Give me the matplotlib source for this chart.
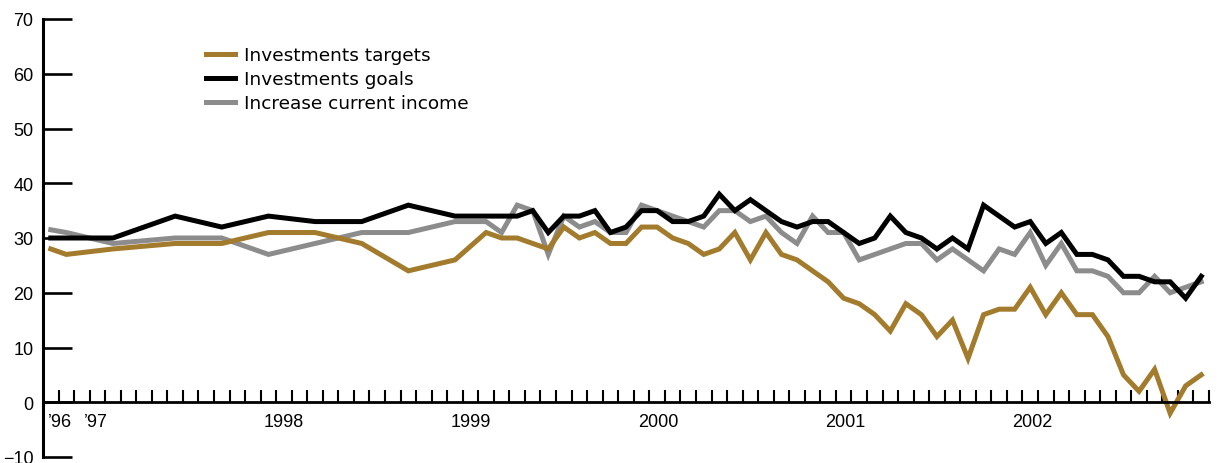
import matplotlib
matplotlib.use('agg')
import matplotlib.pyplot as plt
import numpy as np

# survey dates (year-month); quarterly early on, monthly from spring 1999
dates = ["1996-10", "1996-11", "1997-02", "1997-06", "1997-09", "1997-12",
         "1998-03", "1998-06", "1998-09", "1998-12", "1999-02", "1999-03",
         "1999-04", "1999-05", "1999-06", "1999-07", "1999-08", "1999-09",
         "1999-10", "1999-11", "1999-12", "2000-01", "2000-02", "2000-03",
         "2000-04", "2000-05", "2000-06", "2000-07", "2000-08", "2000-09",
         "2000-10", "2000-11", "2000-12", "2001-01", "2001-02", "2001-03",
         "2001-04", "2001-05", "2001-06", "2001-07", "2001-08", "2001-09",
         "2001-10", "2001-11", "2001-12", "2002-01", "2002-02", "2002-03",
         "2002-04", "2002-05", "2002-06", "2002-07", "2002-08", "2002-09",
         "2002-10", "2002-11", "2002-12"]

investment_targets = [28, 27, 28, 29, 29, 31, 31, 29, 24, 26, 31, 30,
                      30, 29, 28, 32, 30, 31, 29, 29, 32, 32, 30, 29,
                      27, 28, 31, 26, 31, 27, 26, 24, 22, 19, 18, 16,
                      13, 18, 16, 12, 15, 8, 16, 17, 17, 21, 16, 20,
                      16, 16, 12, 5, 2, 6, -2, 3, 5]

investment_goals = [30, 30, 30, 34, 32, 34, 33, 33, 36, 34, 34, 34,
                    34, 35, 31, 34, 34, 35, 31, 32, 35, 35, 33, 33,
                    34, 38, 35, 37, 35, 33, 32, 33, 33, 31, 29, 30,
                    34, 31, 30, 28, 30, 28, 36, 34, 32, 33, 29, 31,
                    27, 27, 26, 23, 23, 22, 22, 19, 23]

current_income = [31.5, 31, 29, 30, 30, 27, 29, 31, 31, 33, 33, 31,
                  36, 35, 27, 34, 32, 33, 31, 31, 36, 35, 34, 33,
                  32, 35, 35, 33, 34, 31, 29, 34, 31, 31, 26, 27,
                  28, 29, 29, 26, 28, 26, 24, 28, 27, 31, 25, 29,
                  24, 24, 23, 20, 20, 23, 20, 21, 22]

year_labels = ["\u201996", "\u201997", "1998", "1999", "2000", "2001", "2002"]
year_label_pos = [10.1, 12.4, 24.5, 36.5, 48.6, 60.6, 72.6]  # months since Jan 1996

# months since Jan 1996, points sit mid-month
x = np.array([(int(d[:4]) - 1996) * 12 + int(d[5:]) - 1 + 0.5 for d in dates])

GOLD = '#a37b2c'
GRAY = '#8c8c8c'
BLACK = '#000000'

fig = plt.figure(figsize=(12.19, 4.64), dpi=100)
ax = fig.add_axes([43 / 1219, 6 / 464, (1209 - 43) / 1219, (458 - 20) / 464])

l_inc, = ax.plot(x, current_income, color=GRAY, lw=3.6, solid_joinstyle='miter',
                 label='Increase current income')
l_tgt, = ax.plot(x, investment_targets, color=GOLD, lw=3.6, solid_joinstyle='miter',
                 label='Investments targets')
l_goal, = ax.plot(x, investment_goals, color=BLACK, lw=3.6, solid_joinstyle='miter',
                  label='Investments goals')

ax.set_xlim(9, 84)
ax.set_ylim(-10, 70)

for s in ['top', 'right']:
    ax.spines[s].set_visible(False)
ax.spines['left'].set_linewidth(2.2)
ax.spines['bottom'].set_position(('data', 0))
ax.spines['bottom'].set_linewidth(2.0)

ax.set_yticks(np.arange(-10, 71, 10))
ax.tick_params(axis='y', direction='in', length=21, width=1.9, pad=7,
               labelsize=13)

ax.set_xticks(np.arange(10, 85), minor=True)
ax.set_xticks(year_label_pos)
ax.set_xticklabels(year_labels)
ax.tick_params(axis='x', which='minor', direction='in', length=8.6, width=1.5)
ax.tick_params(axis='x', which='major', length=0, pad=8, labelsize=13)

for lab in ax.get_xticklabels() + ax.get_yticklabels():
    lab.set_fontfamily('Liberation Sans')

leg = ax.legend(handles=[l_tgt, l_goal, l_inc], loc='upper left',
                bbox_to_anchor=(206 / 1219, 1 - 47 / 464),
                bbox_transform=fig.transFigure, frameon=False,
                borderpad=0, borderaxespad=0, handlelength=1.55,
                handletextpad=0.5, labelspacing=0.33,
                prop={'family': 'DejaVu Sans', 'size': 13.3})

fig.savefig('out.png', dpi=100)
